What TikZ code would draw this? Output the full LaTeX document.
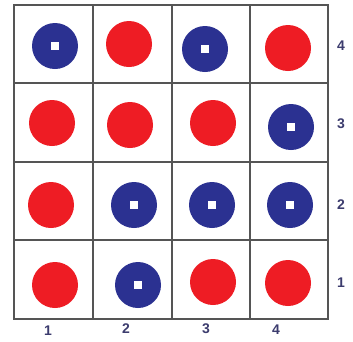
\documentclass[tikz,border=0pt]{standalone}
\usepackage{fontspec}
\setmainfont{Liberation Sans}
\definecolor{dotred}{HTML}{EE1C24}
\definecolor{dotblue}{HTML}{2B3191}
\definecolor{gridgray}{HTML}{555555}
\definecolor{labelblue}{HTML}{3C3C6E}
\begin{document}
\begin{tikzpicture}[x=1pt,y=-1pt,
  reddot/.style={circle,fill=dotred,inner sep=0pt,minimum size=46pt},
  bluedot/.style={circle,fill=dotblue,inner sep=0pt,minimum size=46pt,
    path picture={\fill[white] ([shift={(-4pt,-4pt)}]path picture bounding box.center) rectangle ++(8pt,8pt);}},
  lbl/.style={text=labelblue,font=\bfseries\fontsize{14}{14}\selectfont,inner sep=0pt},
  gridline/.style={draw=gridgray,line width=1.8pt}]
\useasboundingbox (0,0) rectangle (353,341);
\fill[white] (0,0) rectangle (353,341);
% grid
\coordinate (tl) at (14,5);
\coordinate (br) at (328,319);
\draw[gridline] (tl) rectangle (br);
\foreach \x in {93,172,250} \draw[gridline] (\x,5) -- (\x,319);
\foreach \y in {83,162,240} \draw[gridline] (14,\y) -- (328,\y);
% row 4
\node[bluedot] (b41) at (55,46) {};
\node[reddot] (r42) at (129,44) {};
\node[bluedot] (b43) at (205,49) {};
\node[reddot] (r44) at (288,48) {};
% row 3
\node[reddot] (r31) at (52,123) {};
\node[reddot] (r32) at (130,125) {};
\node[reddot] (r33) at (213,123) {};
\node[bluedot] (b34) at (291,127) {};
% row 2
\node[reddot] (r21) at (51,205) {};
\node[bluedot] (b22) at (134,205) {};
\node[bluedot] (b23) at (212,205) {};
\node[bluedot] (b24) at (290,205) {};
% row 1
\node[reddot] (r11) at (55,285) {};
\node[bluedot] (b12) at (138,285) {};
\node[reddot] (r13) at (213,282) {};
\node[reddot] (r14) at (288,283) {};
% labels right
\node[lbl] (y4) at (341,46) {4};
\node[lbl] (y3) at (341,124) {3};
\node[lbl] (y2) at (341,205) {2};
\node[lbl] (y1) at (341,283) {1};
% labels bottom
\node[lbl] (x1) at (48,331) {1};
\node[lbl] (x2) at (126,329) {2};
\node[lbl] (x3) at (206,329) {3};
\node[lbl] (x4) at (276,330) {4};
\end{tikzpicture}
\end{document}
